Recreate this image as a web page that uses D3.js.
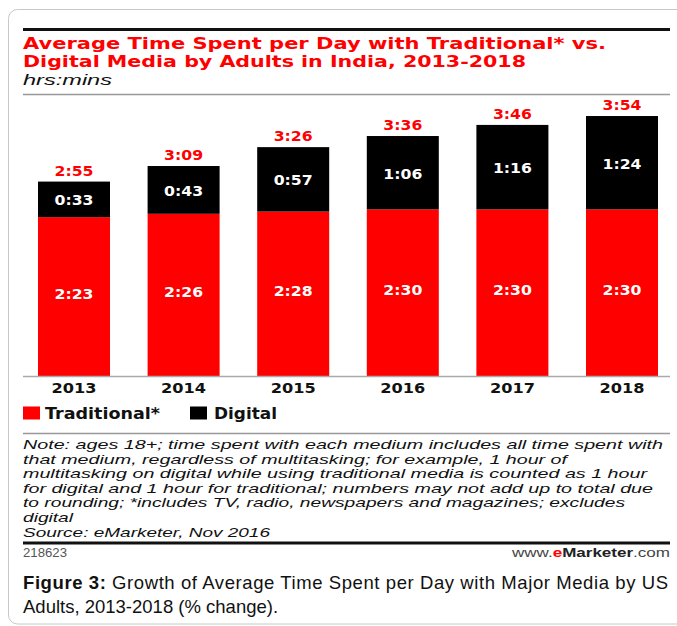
<!DOCTYPE html>
<html>
<head>
<meta charset="utf-8">
<script src="https://cdn.jsdelivr.net/npm/d3@7"></script>
<style>
  html, body { margin: 0; padding: 0; background: #fff; }
  svg { display: block; }
</style>
</head>
<body>
<script>
// ---- data (minutes) ----
const years = ["2013", "2014", "2015", "2016", "2017", "2018"];
const traditional = [143, 146, 148, 150, 150, 150];
const digital = [33, 43, 57, 66, 76, 84];
const totals = [175, 189, 206, 216, 226, 234];
const seriesNames = ["Traditional*", "Digital"];
const titleLines = ["Average Time Spent per Day with Traditional* vs.", "Digital Media by Adults in India, 2013-2018"];
const subtitle = "hrs:mins";
const noteLines = [
  "Note: ages 18+; time spent with each medium includes all time spent with",
  "that medium, regardless of multitasking; for example, 1 hour of",
  "multitasking on digital while using traditional media is counted as 1 hour",
  "for digital and 1 hour for traditional; numbers may not add up to total due",
  "to rounding; *includes TV, radio, newspapers and magazines; excludes",
  "digital",
  "Source: eMarketer, Nov 2016"
];
const chartId = "218623";
const captionBold = "Figure 3:";
const captionLine1 = " Growth of Average Time Spent per Day with Major Media by US";
const captionLine2 = "Adults, 2013-2018 (% change).";

const fmt = m => Math.floor(m / 60) + ":" + String(m % 60).padStart(2, "0");

const W = 677, H = 626;
const RED = "#ff0000", BLACK = "#000000";
const svg = d3.select("body").append("svg").attr("width", W).attr("height", H);

// frame
svg.append("rect").attr("x", 8.5).attr("y", 9.5).attr("width", 720).attr("height", 614.5)
  .attr("rx", 9).attr("fill", "none").attr("stroke", "#c8c8c8").attr("stroke-width", 1);

const L = 23, R = 670;
svg.append("line").attr("x1", L).attr("x2", R).attr("y1", 29.5).attr("y2", 29.5)
  .attr("stroke", "#111").attr("stroke-width", 3);

function fit(sel, w) { return sel.attr("textLength", w).attr("lengthAdjust", "spacingAndGlyphs"); }

// title
const tFont = "'DejaVu Sans', sans-serif";
fit(svg.append("text").attr("x", L).attr("y", 48.5).text(titleLines[0])
  .attr("font-family", tFont).attr("font-weight", "bold").attr("font-size", 16.5).attr("fill", RED), 583);
fit(svg.append("text").attr("x", L).attr("y", 66.5).text(titleLines[1])
  .attr("font-family", tFont).attr("font-weight", "bold").attr("font-size", 16.5).attr("fill", RED), 503);

fit(svg.append("text").attr("x", L).attr("y", 85).text(subtitle)
  .attr("font-family", "'Liberation Sans', Arial, sans-serif").attr("font-style", "italic")
  .attr("font-size", 15).attr("fill", "#111"), 89);

svg.append("line").attr("x1", L).attr("x2", R).attr("y1", 94.5).attr("y2", 94.5)
  .attr("stroke", "#999").attr("stroke-width", 1.5);

// scales
const x = d3.scaleBand().domain(years).range([38, 658]).paddingInner(0.343).paddingOuter(0);
const y = d3.scaleLinear().domain([0, 240]).range([376, 376 - 240 * 1.111]);

const data = years.map((yr, i) => ({ yr, trad: traditional[i], dig: digital[i], tot: totals[i] }));

const g = svg.append("g");
g.selectAll("rect.trad").data(data).join("rect").attr("class", "trad")
  .attr("x", d => x(d.yr)).attr("width", x.bandwidth())
  .attr("y", d => y(d.trad)).attr("height", d => y(0) - y(d.trad)).attr("fill", RED);
g.selectAll("rect.dig").data(data).join("rect").attr("class", "dig")
  .attr("x", d => x(d.yr)).attr("width", x.bandwidth())
  .attr("y", d => y(d.tot)).attr("height", d => y(d.trad) - y(d.tot)).attr("fill", BLACK);

const lblFont = "'DejaVu Sans', sans-serif";
function lbl(cls, yf, fill, txt) {
  g.selectAll("text." + cls).data(data).join("text").attr("class", cls)
    .attr("x", d => x(d.yr) + x.bandwidth() / 2).attr("y", yf)
    .attr("text-anchor", "middle").attr("font-family", lblFont).attr("font-weight", "bold")
    .attr("font-size", 14).attr("fill", fill).text(txt)
    .attr("textLength", 39).attr("lengthAdjust", "spacingAndGlyphs");
}
lbl("tot", d => y(d.tot) - 6, RED, d => fmt(d.tot));
lbl("dl", d => (y(d.tot) + y(d.trad)) / 2 + 6, "#fff", d => fmt(d.dig));
lbl("tl", d => (y(d.trad) + y(0)) / 2 + 2, "#fff", d => fmt(d.trad));

// baseline
svg.append("line").attr("x1", L).attr("x2", R).attr("y1", y(0) + 0.5).attr("y2", y(0) + 0.5)
  .attr("stroke", "#aaa").attr("stroke-width", 1.5);

// x axis labels
const xAxis = d3.axisBottom(x).tickSize(0).tickPadding(0);
const ax = svg.append("g").attr("transform", `translate(0,${y(0)})`).call(xAxis);
ax.select(".domain").remove();
ax.selectAll("text").attr("dy", null).attr("y", 17).attr("font-family", lblFont)
  .attr("font-weight", "bold").attr("font-size", 14).attr("fill", "#111")
  .attr("textLength", 45).attr("lengthAdjust", "spacingAndGlyphs");

// legend
const legend = [
  { name: seriesNames[0], color: RED, rx: 23, tx: 45, tw: 115 },
  { name: seriesNames[1], color: BLACK, rx: 190, tx: 214, tw: 63 }
];
legend.forEach(l => {
  svg.append("rect").attr("x", l.rx).attr("y", 406.5).attr("width", 17).attr("height", 13).attr("fill", l.color);
  fit(svg.append("text").attr("x", l.tx).attr("y", 419).text(l.name).attr("font-family", lblFont)
    .attr("font-weight", "bold").attr("font-size", 16).attr("fill", "#111"), l.tw);
});

svg.append("line").attr("x1", L).attr("x2", R).attr("y1", 433.5).attr("y2", 433.5)
  .attr("stroke", "#999").attr("stroke-width", 1.5);

const noteWidths = [640, 544, 624, 630, 602, 50, 247];
svg.append("g").selectAll("text").data(noteLines).join("text")
  .attr("x", L).attr("y", (d, i) => 449 + i * 14.6).text(d => d)
  .attr("font-family", "'Liberation Sans', Arial, sans-serif").attr("font-style", "italic")
  .attr("font-size", 12.6).attr("fill", "#111")
  .attr("textLength", (d, i) => noteWidths[i]).attr("lengthAdjust", "spacingAndGlyphs");

svg.append("line").attr("x1", L).attr("x2", R).attr("y1", 543).attr("y2", 543)
  .attr("stroke", "#111").attr("stroke-width", 3);

fit(svg.append("text").attr("x", L).attr("y", 557).text(chartId)
  .attr("font-family", "'Liberation Sans', Arial, sans-serif").attr("font-size", 12).attr("fill", "#555"), 44);

const brand = svg.append("text").attr("x", R).attr("y", 557).attr("text-anchor", "end")
  .attr("font-family", "'Liberation Sans', Arial, sans-serif").attr("font-size", 13.5);
brand.append("tspan").attr("fill", "#444").text("www.");
brand.append("tspan").attr("fill", RED).attr("font-weight", "bold").text("e");
brand.append("tspan").attr("fill", "#222").attr("font-weight", "bold").text("Marketer");
brand.append("tspan").attr("fill", "#444").text(".com");
fit(brand, 158);

// caption
const cap = svg.append("text").attr("x", L).attr("y", 589)
  .attr("font-family", "'Liberation Sans', Arial, sans-serif").attr("font-size", 18.5).attr("fill", "#111");
cap.append("tspan").attr("font-weight", "bold").text(captionBold);
cap.append("tspan").text(captionLine1);
cap.attr("textLength", 645).attr("lengthAdjust", "spacing");
svg.append("text").attr("x", L).attr("y", 613).text(captionLine2)
  .attr("font-family", "'Liberation Sans', Arial, sans-serif").attr("font-size", 18.5).attr("fill", "#111");
</script>
</body>
</html>
